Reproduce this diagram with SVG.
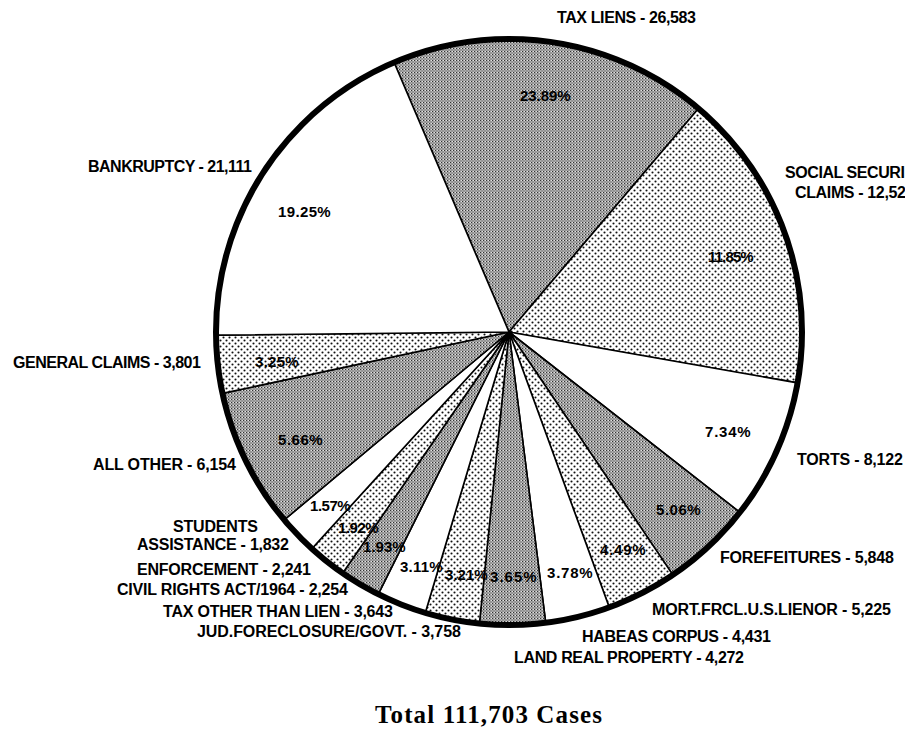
<svg xmlns="http://www.w3.org/2000/svg" width="905" height="734" viewBox="0 0 905 734">
<defs>
<pattern id="dark" width="3" height="3" patternUnits="userSpaceOnUse">
<rect width="3" height="3" fill="#a9a9a9"/>
<rect x="0" y="0" width="1" height="1" fill="#333"/>
<rect x="1.5" y="1.5" width="1" height="1" fill="#5e5e5e"/>
<rect x="2" y="0" width="1" height="1" fill="#e2e2e2"/>
</pattern>
<pattern id="dots" width="6" height="6" patternUnits="userSpaceOnUse">
<rect width="6" height="6" fill="#fff"/>
<circle cx="1.5" cy="1.5" r="1.05" fill="#111"/>
<circle cx="4.5" cy="4.5" r="1.05" fill="#111"/>
</pattern>
</defs>
<style>
.sl{stroke:#000;stroke-width:1.6;stroke-linejoin:round}
.dk{fill:url(#dark)}
.dt{fill:url(#dots)}
.wh{fill:#fff}
.lb{font-family:"Liberation Sans",Arial,sans-serif;font-weight:bold;font-size:16px;fill:#000;letter-spacing:-0.9px}
.pc{font-family:"Liberation Sans",Arial,sans-serif;font-weight:bold;font-size:15px;fill:#000;letter-spacing:-0.7px}
.tt{font-family:"Liberation Serif","Times New Roman",serif;font-weight:bold;font-size:25px;fill:#000}
</style>
<rect width="905" height="734" fill="#fff"/>
<g id="tax-liens">
<path class="sl dk" d="M509,332 L394.1,62.5 A293,293 0 0,1 698.5,108.5 Z"/>
<text class="pc" x="520" y="101" textLength="50" lengthAdjust="spacing">23.89%</text>
<text class="lb" x="557" y="23" textLength="138" lengthAdjust="spacing">TAX LIENS - 26,583</text>
</g>
<g id="social-security">
<path class="sl dt" d="M509,332 L698.5,108.5 A293,293 0 0,1 797.5,382.9 Z"/>
<text class="pc" x="708" y="262" textLength="45" lengthAdjust="spacing">11.85%</text>
<text class="lb" x="785" y="178" textLength="119" lengthAdjust="spacing">SOCIAL SECURI</text>
<text class="lb" x="795" y="198" textLength="110" lengthAdjust="spacing">CLAIMS - 12,52</text>
</g>
<g id="torts">
<path class="sl wh" d="M509,332 L797.5,382.9 A293,293 0 0,1 739.9,512.4 Z"/>
<text class="pc" x="705" y="437" textLength="45" lengthAdjust="spacing">7.34%</text>
<text class="lb" x="797" y="465" textLength="105" lengthAdjust="spacing">TORTS - 8,122</text>
</g>
<g id="forefeitures">
<path class="sl dk" d="M509,332 L739.9,512.4 A293,293 0 0,1 672.8,574.9 Z"/>
<text class="pc" x="656" y="515" textLength="44" lengthAdjust="spacing">5.06%</text>
<text class="lb" x="720" y="563" textLength="173" lengthAdjust="spacing">FOREFEITURES - 5,848</text>
</g>
<g id="mort-frcl">
<path class="sl dt" d="M509,332 L672.8,574.9 A293,293 0 0,1 609.2,607.3 Z"/>
<text class="pc" x="600" y="555" textLength="45" lengthAdjust="spacing">4.49%</text>
<text class="lb" x="652" y="615" textLength="238" lengthAdjust="spacing">MORT.FRCL.U.S.LIENOR - 5,225</text>
</g>
<g id="habeas-corpus">
<path class="sl wh" d="M509,332 L609.2,607.3 A293,293 0 0,1 545.7,622.7 Z"/>
<text class="pc" x="547" y="578" textLength="45" lengthAdjust="spacing">3.78%</text>
<text class="lb" x="582" y="642" textLength="188" lengthAdjust="spacing">HABEAS CORPUS - 4,431</text>
</g>
<g id="land-real-property">
<path class="sl dk" d="M509,332 L545.7,622.7 A293,293 0 0,1 479.4,623.5 Z"/>
<text class="pc" x="490" y="582" textLength="46" lengthAdjust="spacing">3.65%</text>
<text class="lb" x="514" y="663" textLength="229" lengthAdjust="spacing">LAND REAL PROPERTY - 4,272</text>
</g>
<g id="jud-foreclosure">
<path class="sl dt" d="M509,332 L479.4,623.5 A293,293 0 0,1 425.3,612.8 Z"/>
<text class="pc" x="445" y="580" textLength="42" lengthAdjust="spacing">3.21%</text>
<text class="lb" x="197" y="637" textLength="263" lengthAdjust="spacing">JUD.FORECLOSURE/GOVT. - 3,758</text>
</g>
<g id="tax-other-than-lien">
<path class="sl wh" d="M509,332 L425.3,612.8 A293,293 0 0,1 378.3,594.2 Z"/>
<text class="pc" x="400" y="572" textLength="42" lengthAdjust="spacing">3.11%</text>
<text class="lb" x="163" y="617" textLength="229" lengthAdjust="spacing">TAX OTHER THAN LIEN - 3,643</text>
</g>
<g id="civil-rights">
<path class="sl dk" d="M509,332 L378.3,594.2 A293,293 0 0,1 342.6,573.2 Z"/>
<text class="pc" x="363" y="552" textLength="42" lengthAdjust="spacing">1.93%</text>
<text class="lb" x="117" y="595" textLength="230" lengthAdjust="spacing">CIVIL RIGHTS ACT/1964 - 2,254</text>
</g>
<g id="enforcement">
<path class="sl dt" d="M509,332 L342.6,573.2 A293,293 0 0,1 311.8,548.7 Z"/>
<text class="pc" x="338" y="533" textLength="40" lengthAdjust="spacing">1.92%</text>
<text class="lb" x="137" y="575" textLength="173" lengthAdjust="spacing">ENFORCEMENT - 2,241</text>
</g>
<g id="students-assistance">
<path class="sl wh" d="M509,332 L311.8,548.7 A293,293 0 0,1 284.2,519.9 Z"/>
<text class="pc" x="310" y="511" textLength="40" lengthAdjust="spacing">1.57%</text>
<text class="lb" x="173" y="532" textLength="84" lengthAdjust="spacing">STUDENTS</text>
<text class="lb" x="137" y="550" textLength="151" lengthAdjust="spacing">ASSISTANCE - 1,832</text>
</g>
<g id="all-other">
<path class="sl dk" d="M509,332 L284.2,519.9 A293,293 0 0,1 222.5,393.4 Z"/>
<text class="pc" x="278" y="445" textLength="44" lengthAdjust="spacing">5.66%</text>
<text class="lb" x="93" y="470" textLength="142" lengthAdjust="spacing">ALL OTHER - 6,154</text>
</g>
<g id="general-claims">
<path class="sl dt" d="M509,332 L222.5,393.4 A293,293 0 0,1 216,335.1 Z"/>
<text class="pc" x="255" y="367" textLength="43" lengthAdjust="spacing">3.25%</text>
<text class="lb" x="13" y="368" textLength="187" lengthAdjust="spacing">GENERAL CLAIMS - 3,801</text>
</g>
<g id="bankruptcy">
<path class="sl wh" d="M509,332 L216,335.1 A293,293 0 0,1 394.1,62.5 Z"/>
<text class="pc" x="278" y="217" textLength="52" lengthAdjust="spacing">19.25%</text>
<text class="lb" x="88" y="172" textLength="163" lengthAdjust="spacing">BANKRUPTCY - 21,111</text>
</g>
<g id="outline">
<circle cx="509" cy="332" r="293" fill="none" stroke="#000" stroke-width="6"/>
</g>
<g id="title">
<text class="tt" x="375" y="723" textLength="227" lengthAdjust="spacing">Total 111,703 Cases</text>
</g>
</svg>
